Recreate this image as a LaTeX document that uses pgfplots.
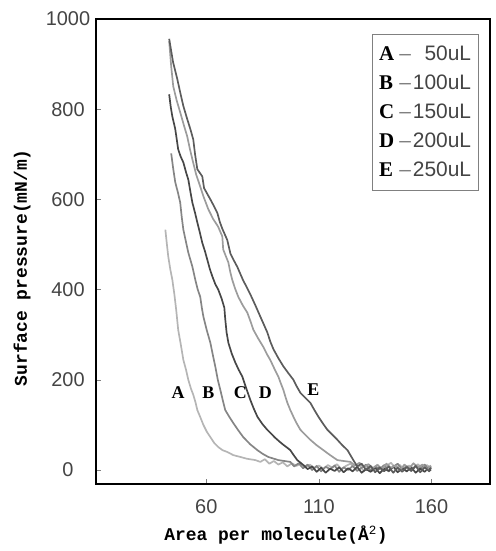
\documentclass[border=0pt]{standalone}
\usepackage{fontspec}
\usepackage{pgfplots}
\pgfplotsset{compat=1.18}
\setmainfont{Liberation Sans}
\newfontfamily\lserif{Liberation Serif}
\newfontfamily\lmono{Liberation Mono}

\definecolor{cA}{HTML}{B5B5B5}
\definecolor{cB}{HTML}{858585}
\definecolor{cC}{HTML}{474747}
\definecolor{cD}{HTML}{9C9C9C}
\definecolor{cE}{HTML}{5C5C5C}
\definecolor{tickgray}{HTML}{444444}

\begin{document}
\begin{tikzpicture}
\begin{axis}[
    at={(0,0)}, anchor=south west,
    scale only axis,
    width=394bp, height=465bp,
    xmin=11, xmax=186,
    ymin=-31, ymax=1000,
    xtick={60,110,160},
    ytick={0,200,400,600,800,1000},
    tick pos=left,
    tick align=inside,
    major tick length=5bp,
    tick style={gray, line width=0.5pt},
    axis line style={line width=1.4pt},
    /pgf/number format/assume math mode=true,
    /pgf/number format/1000 sep={},
    ticklabel style={font=\fontsize{20}{24}\selectfont, text=tickgray, inner sep=0pt},
    yticklabel style={anchor=center, xshift=-28bp},
    xticklabel style={anchor=north, yshift=-15bp},
    xlabel={\lmono\bfseries Area per molecule(Å\textsuperscript{\mdseries 2})},
    ylabel={\lmono\bfseries Surface pressure(mN/m)},
    label style={font=\fontsize{18}{22}\selectfont},
    xlabel style={at={(rel axis cs:0.457,0)}, anchor=center, yshift=-51bp},
    ylabel style={at={(rel axis cs:0,0.465)}, anchor=center, yshift=74bp},
    clip=false,
    every axis plot/.append style={line width=1.7pt, line join=round},
]
% A - 50uL
\addplot[cA] coordinates {
(41.8,533)(42.5,500)(43.1,473)(44.0,445)(44.9,422)(45.8,390)(46.6,356)(47.5,311)(48.6,280)(49.8,244)(51.0,222)(52.0,200)(53.2,180)(54.2,167)(55.2,150)(56.0,133)(57.5,115)(58.7,100)(60.2,85)(61.8,73)(63.5,60)(65.3,51)(67.2,44)(69.3,40)(72.0,33)(75.1,29)(78.0,25)(81.8,22)
(84,18)(86,24)(88,14)(90,20)(92,12)(94,17)(96,8)(98,15)(100,9)(102,14)(104,6)(106,12)(108,4)(110,10)(112,3)(114,11)(116,5)(118,13)(120,2)(122,9)(124,14)(126,4)(128,10)(130,-2)(132,8)(134,3)(136,12)(138,1)(140,9)(142,16)(144,5)(146,11)(148,0)(150,10)(152,4)(154,13)(156,2)(158,11)(159.5,5)
};
% B - 100uL
\addplot[cB] coordinates {
(44.4,702)(45.3,668)(46.2,638)(47.4,615)(48.4,593)(49.1,560)(49.8,533)(51.0,505)(52.0,482)(53.8,451)(55.1,422)(56.2,400)(57.3,384)(58.0,360)(58.7,340)(60.2,310)(61.8,282)(62.9,255)(64.0,229)(65.1,200)(66.2,178)(67.3,155)(68.4,133)(70.2,118)(72.0,104)(74.2,88)(76.4,73)(79.5,57)(82.7,44)(85.0,36)(87.5,29)(92.0,22)(97.3,18)
(99,8)(101,15)(103,4)(105,12)(107,0)(109,9)(111,-3)(113,7)(115,2)(117,10)(119,-4)(121,6)(123,0)(125,9)(127,-2)(129,5)(131,12)(133,-1)(135,8)(137,2)(139,11)(141,-3)(143,7)(145,14)(147,1)(149,9)(151,-2)(153,10)(155,3)(157,12)(159,0)(159.8,8)
};
% C - 150uL
\addplot[cC] coordinates {
(43.5,833)(44.2,805)(44.9,784)(46.2,756)(47.5,711)(48.6,695)(49.8,682)(51.0,660)(52.0,644)(53.0,615)(53.8,593)(55.0,570)(56.0,549)(57.2,525)(58.2,504)(59.4,485)(60.4,467)(61.6,445)(62.7,429)(64.0,412)(65.3,400)(66.8,380)(68.0,360)(68.4,335)(69.0,305)(69.8,282)(71.3,258)(72.9,238)(74.4,222)(76.0,207)(77.8,180)(79.5,156)(81.0,137)(82.7,118)(84.9,102)(87.1,89)(88.9,80)(90.7,71)(92.5,63)(94.2,56)(95.8,50)(97.3,44)(98.8,33)(100.4,22)(103.1,11)
(105,2)(107,8)(109,-4)(111,5)(113,-6)(115,3)(117,-2)(119,6)(121,-5)(123,4)(125,-3)(127,7)(129,-6)(131,2)(133,-4)(135,5)(137,-7)(139,3)(141,-2)(143,8)(145,-5)(147,4)(149,-3)(151,6)(153,-6)(155,3)(157,-4)(159,6)(159.6,-2)
};
% D - 200uL
\addplot[cD] coordinates {
(43.5,951)(44.4,895)(45.3,851)(46.8,820)(48.4,793)(50.0,765)(51.5,740)(52.7,712)(53.8,689)(55.5,655)(57.2,630)(58.7,607)(60.9,578)(63.1,556)(65.2,540)(67.1,518)(67.5,489)(68.6,475)(69.8,460)(70.6,440)(71.5,422)(72.8,402)(74.2,384)(76.2,365)(78.2,349)(79.6,330)(80.9,311)(83.0,292)(85.3,273)(86.8,258)(88.4,244)(90.2,225)(92.0,207)(93.1,192)(94.2,178)(95.1,163)(96.0,149)(97.3,133)(98.7,118)(100.2,103)(101.8,89)(104.0,78)(106.2,67)(109.0,55)(112.0,44)(115.0,33)(118.2,22)(121.0,20)(124,18)
(126,10)(128,16)(130,6)(132,13)(134,4)(136,11)(138,2)(140,14)(142,5)(144,10)(146,0)(148,12)(150,3)(152,15)(154,6)(156,12)(158,1)(159.7,10)
};
% E - 250uL
\addplot[cE] coordinates {
(43.5,956)(45.2,905)(47.1,867)(48.5,835)(49.8,807)(51.4,780)(52.9,756)(54.2,733)(55.0,700)(56.0,667)(58.2,651)(59.0,625)(61.8,600)(63.4,585)(64.9,570)(66.0,550)(67.1,535)(69.3,510)(70.7,480)(72.2,465)(73.8,450)(75.1,435)(76.4,420)(78.0,405)(79.5,390)(81.8,365)(84.0,340)(85.6,322)(87.1,305)(88.4,285)(89.8,268)(92.0,248)(94.2,230)(96.4,215)(98.7,200)(100.2,185)(101.8,171)(104.0,160)(106.2,149)(108.0,133)(109.8,118)(111.8,103)(113.8,89)(116.0,78)(118.2,67)(120.4,55)(122.7,44)(124.0,33)(125.3,22)
(127,8)(129,14)(131,0)(133,9)(135,-5)(137,6)(139,-3)(141,8)(143,-6)(145,5)(147,-4)(149,7)(151,-2)(153,9)(155,-5)(157,6)(159,-3)(159.8,5)
};
% curve labels
\node[font=\lserif\bfseries\fontsize{18}{20}\selectfont] at (axis cs:47.5,171) {A};
\node[font=\lserif\bfseries\fontsize{18}{20}\selectfont] at (axis cs:60.9,171) {B};
\node[font=\lserif\bfseries\fontsize{18}{20}\selectfont] at (axis cs:75.1,171) {C};
\node[font=\lserif\bfseries\fontsize{18}{20}\selectfont] at (axis cs:86.2,171) {D};
\node[font=\lserif\bfseries\fontsize{18}{20}\selectfont] at (axis cs:107.5,178) {E};
% legend box
\node[draw=gray, line width=0.8pt, fill=white, anchor=north west, inner xsep=7bp, inner ysep=6bp,
      font=\fontsize{21}{25}\selectfont]
  at (rel axis cs:0.70,0.968) {%
  \renewcommand{\arraystretch}{1.16}%
  \begin{tabular}{@{}l@{\hspace{5bp}}l@{\hspace{2bp}}r@{}}
  {\lserif\bfseries A} & \textcolor{gray}{--} & \textcolor{tickgray}{50uL}\\
  {\lserif\bfseries B} & \textcolor{gray}{--} & \textcolor{tickgray}{100uL}\\
  {\lserif\bfseries C} & \textcolor{gray}{--} & \textcolor{tickgray}{150uL}\\
  {\lserif\bfseries D} & \textcolor{gray}{--} & \textcolor{tickgray}{200uL}\\
  {\lserif\bfseries E} & \textcolor{gray}{--} & \textcolor{tickgray}{250uL}
  \end{tabular}};
\end{axis}
\pgfresetboundingbox
\path[use as bounding box] (-96bp,-67bp) rectangle (400bp,484bp);
\end{tikzpicture}
\end{document}
